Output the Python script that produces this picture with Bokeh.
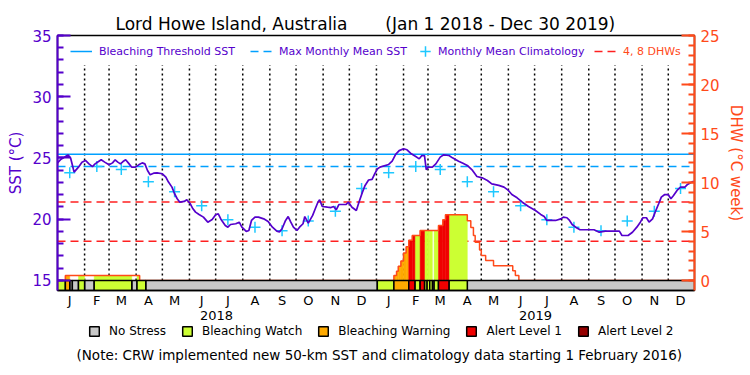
import numpy as np
import pandas as pd
from bokeh.plotting import figure
from bokeh.layouts import column
from bokeh.models import (Range1d, LinearAxis, FixedTicker, Legend, LegendItem, Title, Label)
from bokeh.embed import file_html
from bokeh.resources import INLINE

# ---------------- data (x = days since 1 Jan 2018) ----------------
START = pd.Timestamp("2018-01-01")
END_DAY = 729  # right edge of the plot (end of 2019)

# daily SST trace (turning points)
sst_day = [0, 4, 12, 15, 19, 24, 28, 32, 36, 40, 43, 47, 50, 54, 59, 63, 66, 69, 72, 75,
           78, 81, 85, 89, 93, 97, 100, 103, 106, 110, 114, 120, 124, 127, 131, 134, 137, 140,
           145, 148, 152, 155, 158, 162, 167, 172, 177, 181, 184, 187, 192, 195, 198, 204, 208,
           211, 216, 219, 222, 226, 230, 236, 241, 246, 251, 254, 257, 261, 264, 267, 270, 274,
           277, 281, 283, 287, 292, 295, 298, 300, 303, 309, 313, 316, 319, 322, 330, 333, 337,
           342, 345, 349, 352, 356, 360, 363, 366, 369, 379, 383, 387, 391, 396, 400, 404, 410,
           414, 417, 420, 422, 424, 429, 433, 438, 442, 448, 452, 459, 464, 469, 475, 480, 486,
           492, 497, 505, 511, 516, 520, 526, 532, 539, 547, 553, 557, 560, 570, 576, 579, 583,
           586, 589, 593, 598, 606, 614, 620, 627, 637, 643, 646, 653, 658, 663, 667, 670, 674,
           677, 681, 684, 688, 691, 695, 699, 702, 705, 709, 713, 718, 721, 726, 728]
sst_val = [24.6, 24.9, 25.25, 25.0, 23.85, 24.25, 24.66, 24.8, 24.52, 24.3, 24.52, 24.71, 24.85,
           24.66, 24.44, 24.6, 24.85, 24.66, 24.52, 24.71, 24.85, 24.6, 24.25, 24.25, 24.44, 24.6,
           24.52, 23.98, 23.63, 23.76, 23.79, 23.71, 23.44, 23.03, 22.62, 22.08, 21.67, 21.39,
           21.45, 21.59, 21.26, 20.85, 20.58, 20.39, 20.17, 19.76, 19.98, 20.36, 20.44, 20.0,
           19.49, 19.35, 19.57, 19.63, 19.76, 19.35, 19.0, 19.08, 19.9, 20.17, 20.17, 20.03,
           19.82, 19.35, 19.03, 18.97, 19.22, 19.9, 20.22, 19.76, 19.35, 19.08, 19.35, 19.63,
           20.22, 19.68, 20.31, 20.85, 21.39, 21.59, 21.04, 20.98, 20.95, 21.04, 20.77, 21.2,
           21.2, 21.39, 20.98, 20.71, 21.39, 22.21, 22.76, 23.2, 23.25, 23.7, 24.1, 24.25, 24.47,
           24.74, 25.3, 25.6, 25.75, 25.67, 25.39, 25.12, 24.93, 25.2, 25.2, 24.04, 24.25, 24.25,
           24.52, 25.07, 25.26, 25.2, 25.01, 24.74, 24.57, 24.39, 23.98, 23.49, 23.38, 23.16,
           22.89, 22.76, 22.62, 22.35, 22.02, 21.75, 21.39, 21.04, 20.71, 20.39, 20.22, 19.9,
           19.9, 20.03, 20.17, 20.12, 19.9, 19.57, 19.35, 19.14, 19.14, 19.14, 18.94, 19.03,
           19.03, 19.03, 18.67, 18.67, 18.94, 19.35, 19.76, 20.12, 20.12, 19.76, 20.03, 20.58,
           21.26, 21.8, 22.02, 22.0, 21.67, 21.94, 22.35, 22.62, 22.62, 22.84, 23.03, 23.1]

month_letters = ["J", "F", "M", "A", "M", "J", "J", "A", "S", "O", "N", "D"]
years = [2018, 2019]
clim_val = [23.8, 24.3, 24.05, 23.05, 22.25, 21.1, 19.95, 19.35, 19.05, 19.85, 20.65, 22.5]
MMM = 24.3
THRESHOLD = 25.3
dhw_marks = [4, 8]

dhw_day = [0, 9, 94, 385, 388, 390, 393, 396, 399, 402, 406, 415, 436, 441, 444, 469, 473,
           476, 478, 483, 485, 490, 499, 521, 524, 528]
dhw_val = [0, 0.5, 0, 0.5, 0.95, 1.45, 2.0, 2.8, 3.45, 4.1, 4.6, 5.1, 5.6, 6.2, 6.7, 6.1, 5.4,
           4.6, 3.9, 3.1, 2.55, 2.05, 1.5, 1.0, 0.5, 0]

# alert status: start day of each run and its level (-1 = no data)
status_day = [0, 9, 14, 17, 24, 31, 42, 85, 91, 101, 366, 385, 402, 409, 415, 420, 423, 426,
              429, 431, 436, 448, 469]
status_lvl = [1, 2, 0, 0, 1, 0, 1, 0, 1, 0, 1, 2, 3, 1, 3, 1, 1, 1, -1, 1, 3, 1, 0]
status_names = ["No Stress", "Bleaching Watch", "Bleaching Warning", "Alert Level 1", "Alert Level 2"]
status_colors = ["#c8c8c8", "#ccff33", "#ffaa00", "#f00000", "#960000"]

title_place = "Lord Howe Island, Australia"
title_period = "(Jan 1 2018 - Dec 30 2019)"
note_text = "(Note: CRW implemented new 50-km SST and climatology data starting 1 February 2016)"

# ---------------- styling ----------------
FONT = "DejaVu Sans"
PURPLE = "#5500cc"
BLUE = "#00a0ff"
CYAN = "#1ec8ff"
RED = "#ff2020"
ORANGE = "#ff4a1a"
SST_MIN, SST_MAX = 14.18, 35.0
STRIP_TOP = 15.0

p = figure(width=750, height=322, output_backend="svg", toolbar_location=None,
           x_range=Range1d(0, END_DAY), y_range=Range1d(SST_MIN, SST_MAX),
           min_border_left=57, min_border_right=56, min_border_top=35, min_border_bottom=32,
           background_fill_color="white", border_fill_color="white")
p.extra_y_ranges = {"dhw": Range1d(-1.02, 25)}
p.xgrid.visible = False
p.ygrid.visible = False
p.outline_line_color = "black"
p.outline_line_width = 1.5

# title (one line, non-breaking gap between the two parts)
p.add_layout(Title(text=title_place + "\u00a0" * 7 + title_period, align="left", offset=58,
                   standoff=3, text_font=FONT, text_font_size="17px",
                   text_font_style="normal", text_color="black"), "above")

# left axis
ya = p.yaxis[0]
ya.ticker = FixedTicker(ticks=[15, 20, 25, 30, 35], minor_ticks=list(range(15, 36)))
ya.axis_label = "SST (°C)"
ya.axis_label_text_font = FONT
ya.axis_label_text_font_size = "15px"
ya.axis_label_text_font_style = "normal"
ya.axis_label_text_color = PURPLE
ya.axis_label_standoff = 4
ya.major_label_text_font = FONT
ya.major_label_text_font_size = "15px"
ya.major_label_text_color = PURPLE
ya.major_label_standoff = 6
ya.axis_line_color = PURPLE
ya.axis_line_width = 2
ya.major_tick_line_color = PURPLE
ya.minor_tick_line_color = PURPLE
ya.major_tick_line_width = 2
ya.minor_tick_line_width = 2
ya.major_tick_in = 13
ya.major_tick_out = 0
ya.minor_tick_in = 6
ya.minor_tick_out = 0

# right axis (DHW)
ra = LinearAxis(y_range_name="dhw",
                ticker=FixedTicker(ticks=[0, 5, 10, 15, 20, 25], minor_ticks=list(range(0, 26))),
                axis_label="DHW (°C week)", axis_label_text_font=FONT,
                axis_label_text_font_size="15px", axis_label_text_font_style="normal",
                axis_label_text_color=ORANGE, axis_label_standoff=4,
                major_label_text_font=FONT, major_label_text_font_size="15px",
                major_label_text_color=ORANGE, major_label_standoff=6,
                axis_line_color=ORANGE, axis_line_width=2,
                major_tick_line_color=ORANGE, minor_tick_line_color=ORANGE,
                major_tick_line_width=2, minor_tick_line_width=2,
                major_tick_in=13, major_tick_out=0, minor_tick_in=6, minor_tick_out=0)
p.add_layout(ra, "right")

# bottom month axis
mid_month = []
mid_labels = {}
for y in years:
    for m in range(12):
        d = (pd.Timestamp(year=y, month=m + 1, day=15) - START).days
        mid_month.append(d)
        mid_labels[d] = month_letters[m]
xa = p.xaxis[0]
xa.ticker = FixedTicker(ticks=mid_month, minor_ticks=[])
xa.major_label_overrides = mid_labels
xa.major_label_text_font = FONT
xa.major_label_text_font_size = "13px"
xa.major_label_text_color = "black"
xa.major_label_standoff = 2
xa.axis_line_color = "black"
xa.axis_line_width = 1.5
xa.major_tick_line_color = None
xa.minor_tick_line_color = None
xa.major_tick_in = 0
xa.major_tick_out = 0

# year axis
year_mid = [(pd.Timestamp(year=y, month=7, day=2) - START).days for y in years]
yr_axis = LinearAxis(ticker=FixedTicker(ticks=year_mid, minor_ticks=[]),
                     major_label_overrides={d: str(y) for d, y in zip(year_mid, years)},
                     major_label_text_font=FONT, major_label_text_font_size="13px",
                     major_label_text_color="black", major_label_standoff=0,
                     axis_line_color=None, major_tick_line_color=None,
                     minor_tick_line_color=None, major_tick_in=0, major_tick_out=0)
p.add_layout(yr_axis, "below")

# dotted month separators
month_starts = pd.date_range("2018-02-01", "2019-12-01", freq="MS")
ms_days = list((month_starts - START).days)
p.segment(x0=ms_days, y0=STRIP_TOP, x1=ms_days, y1=32.6, line_color="black",
          line_width=1.5, line_dash="2 3")

# reference lines
r_thr = p.line(x=[0, END_DAY], y=[THRESHOLD, THRESHOLD], line_color=BLUE, line_width=1.5)
r_mmm = p.line(x=[0, END_DAY], y=[MMM, MMM], line_color=BLUE, line_width=1.5, line_dash="8 5")
r_dhwl = p.multi_line(xs=[[0, END_DAY] for _ in dhw_marks], ys=[[v, v] for v in dhw_marks],
                      y_range_name="dhw", line_color=RED, line_width=1.5, line_dash="8 5")

# DHW area coloured by alert status
def step_at(days, vals, t):
    i = int(np.searchsorted(days, t, side="right")) - 1
    return vals[i]

bps = sorted(set(dhw_day) | set(status_day) | {END_DAY})
fill = {k: dict(left=[], right=[], top=[]) for k in range(1, 5)}
for a, b in zip(bps[:-1], bps[1:]):
    h = step_at(dhw_day, dhw_val, a)
    lvl = step_at(status_day, status_lvl, a)
    if h > 0 and lvl >= 1:
        fill[lvl]["left"].append(a)
        fill[lvl]["right"].append(b)
        fill[lvl]["top"].append(h)
for k, src in fill.items():
    if src["left"]:
        p.quad(left=src["left"], right=src["right"], bottom=0, top=src["top"],
               y_range_name="dhw", fill_color=status_colors[k], line_color=status_colors[k],
               line_width=0.5)

# DHW outline
p.step(x=dhw_day + [END_DAY], y=dhw_val + [dhw_val[-1]], mode="after", y_range_name="dhw",
       line_color=ORANGE, line_width=1.5)

# status strip
seg_right = status_day[1:] + [END_DAY]
for k in range(-1, 5):
    lefts = [l for l, lv in zip(status_day, status_lvl) if lv == k]
    rights = [r for r, lv in zip(seg_right, status_lvl) if lv == k]
    if not lefts:
        continue
    color = "white" if k < 0 else status_colors[k]
    p.quad(left=lefts, right=rights, bottom=[SST_MIN] * len(lefts),
           top=[STRIP_TOP] * len(lefts), fill_color=color, line_color="black", line_width=1.5)

# climatology crosses
clim_days = [(pd.Timestamp(year=y, month=m + 1, day=15) - START).days for y in years for m in range(12)]
r_clim = p.scatter(x=clim_days, y=clim_val * len(years), marker="cross", size=11,
                   line_color=CYAN, line_width=1.5)

# SST
p.line(sst_day, sst_val, line_color=PURPLE, line_width=1.7)

# ---------------- in-plot legends ----------------
def add_legend(fig, items, x, y, color, gw, gh, standoff, size, spacing=0):
    lg = Legend(items=items, location=(x, y), orientation="horizontal", glyph_width=gw,
                glyph_height=gh, label_standoff=standoff, label_text_font=FONT,
                label_text_font_size=size, label_text_color=color, label_height=gh,
                padding=0, margin=0, spacing=spacing, border_line_color=None,
                background_fill_alpha=0)
    fig.add_layout(lg, "center")

add_legend(p, [LegendItem(label="Bleaching Threshold SST", renderers=[r_thr])],
           13, 232, PURPLE, 22, 14, 7, "11px")
add_legend(p, [LegendItem(label="Max Monthly Mean SST", renderers=[r_mmm])],
           193, 232, PURPLE, 23, 14, 6, "11px")
add_legend(p, [LegendItem(label="Monthly Mean Climatology", renderers=[r_clim])],
           355, 226, PURPLE, 26, 26, 0, "11px")
add_legend(p, [LegendItem(label="4, 8 DHWs", renderers=[r_dhwl])],
           537, 232, ORANGE, 23, 14, 6, "11px")

# ---------------- status key and note (strip below the chart) ----------------
# (its frame is aligned with the chart frame above, i.e. starts 57 px from the left)
k2 = figure(width=750, height=53, output_backend="svg", toolbar_location=None,
            x_range=Range1d(0, 750), y_range=Range1d(0, 53),
            x_axis_type=None, y_axis_type=None, min_border=0,
            background_fill_color="white", border_fill_color="white")
k2.xgrid.visible = False
k2.ygrid.visible = False
k2.outline_line_color = None
# key swatches: one off-screen sample per status so the legend can draw its box
swatches = [k2.quad(left=[-20], right=[-10], bottom=[-20], top=[-10], fill_color=c,
                    line_color="black", line_width=1.5) for c in status_colors]
add_legend(k2, [LegendItem(label=n, renderers=[r]) for n, r in zip(status_names, swatches)],
           31, 37, "black", 12, 12, 9, "12px", spacing=15)
k2.add_layout(Label(x=19, y=21, x_units="screen", y_units="screen", text=note_text,
                    text_font=FONT, text_font_size="13.5px", text_color="black",
                    text_baseline="middle"))

open("out.html", "w").write(file_html(column(p, k2, spacing=0), INLINE))
